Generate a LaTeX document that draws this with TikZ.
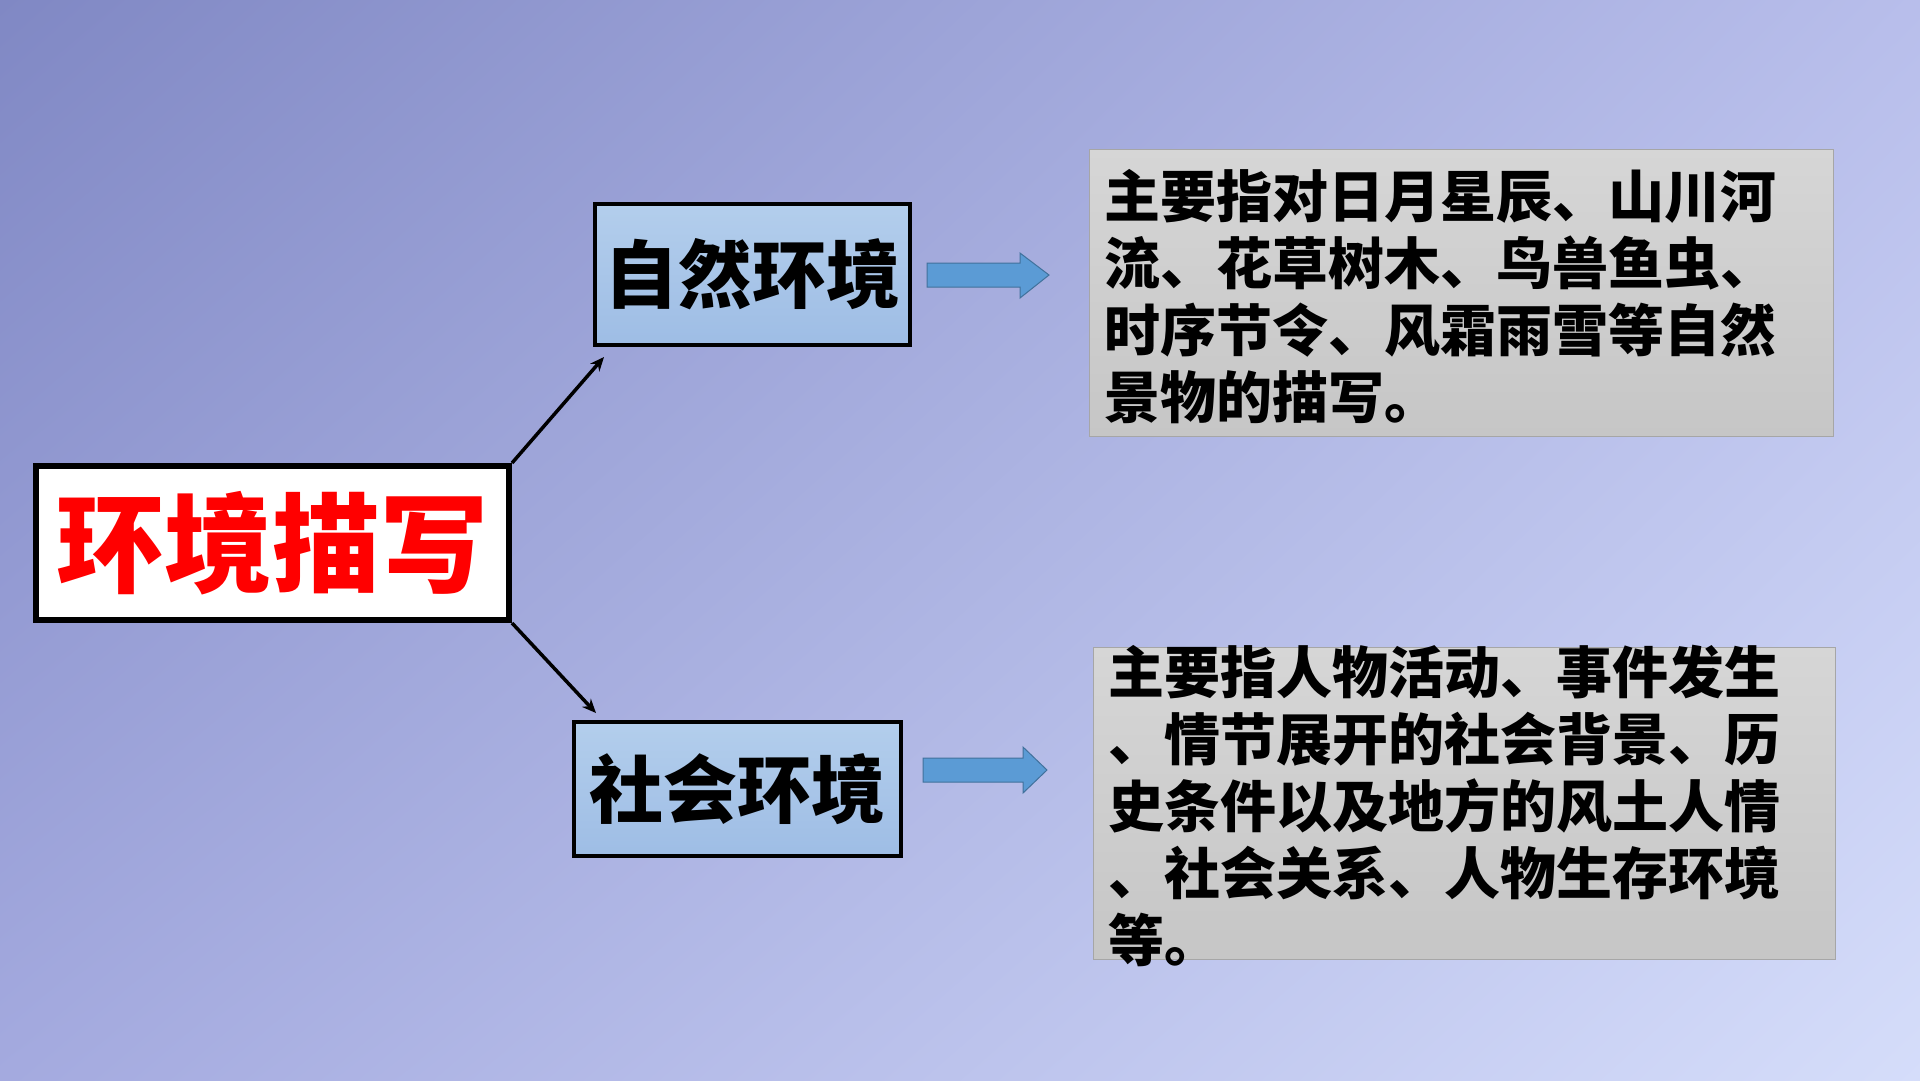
\documentclass[tikz,border=0pt]{standalone}
\usepackage{fontspec}
\newfontfamily\cjk{Noto Sans CJK SC}[BoldFont={Noto Sans CJK SC Black}]
\usetikzlibrary{arrows.meta,calc,shadings}
\definecolor{bgTL}{HTML}{8088C4}
\definecolor{bgTR}{HTML}{B8BEEB}
\definecolor{bgBL}{HTML}{A4AADF}
\definecolor{bgBR}{HTML}{D5DDFA}
\definecolor{boxTop}{HTML}{B3CEEC}
\definecolor{boxBot}{HTML}{9EBDE5}
\definecolor{grayTop}{HTML}{D6D6D6}
\definecolor{grayBot}{HTML}{C6C6C6}
\definecolor{grayLine}{HTML}{A6A6A6}
\definecolor{arrFill}{HTML}{5B9BD5}
\definecolor{arrLine}{HTML}{41719C}
\tikzset{
  mainbox/.style={draw=black, line width=0.6mm, fill=white, inner sep=0pt,
    font=\cjk\bfseries\fontsize{30.7}{36}\selectfont, text=red},
  subbox/.style={draw=black, line width=0.4mm, top color=boxTop, bottom color=boxBot,
    inner sep=0pt, font=\cjk\bfseries\fontsize{21.05}{25}\selectfont, text=black},
  descbox/.style={draw=grayLine, line width=0.1mm, top color=grayTop, bottom color=grayBot, inner sep=0pt},
  desctext/.style={anchor=north west, inner sep=0pt, align=left, text=black,
    font=\cjk\bfseries\fontsize{15.93}{19.06}\selectfont},
  link/.style={draw=black, line width=0.35mm, -{Stealth[length=1.4mm,width=1.2mm]}},
  blockarrow/.style={fill=arrFill, draw=arrLine, line width=0.1mm}
}
\begin{document}
\begin{tikzpicture}[x=0.1mm,y=-0.1mm]
\useasboundingbox (0,0) rectangle (1920,1080);
\begin{scope}[y=0.1mm]
\shade[upper left=bgTL, upper right=bgTR, lower left=bgBL, lower right=bgBR] (0,-1080) rectangle (1920,0);
\end{scope}

\node[mainbox, minimum width=47.3mm, minimum height=15.4mm] (env) at (272.5,543) {环境描写};
\node[subbox, minimum width=31.5mm, minimum height=14.1mm] (nat) at (752.5,274.5) {\raisebox{-0.3mm}{自然环境}};
\node[subbox, minimum width=32.7mm, minimum height=13.4mm] (soc) at (737.5,789) {\raisebox{-0.3mm}{社会环境}};

\node[descbox, minimum width=74.4mm, minimum height=28.7mm] (d1) at (1461,292.5) {};
\node[descbox, minimum width=74.2mm, minimum height=31.2mm] (d2) at (1464,803) {};

\node[desctext] (t1) at (1104,169) {主要指对日月星辰、山川河\\流、花草树木、鸟兽鱼虫、\\时序节令、风霜雨雪等自然\\景物的描写。};
\node[desctext] (t2) at (1108,644) {主要指人物活动、事件发生\\、情节展开的社会背景、历\\史条件以及地方的风土人情\\、社会关系、人物生存环境\\等。};

\coordinate (natin) at ($(nat.south west)+(11,10)$);
\coordinate (socin) at ($(soc.north west)+(24,-7)$);
\draw[link] (env.north east) -- (natin);
\draw[link] (env.south east) -- (socin);

\draw[blockarrow] (927,263) -- (1020,263) -- (1020,253) -- (1049,275) -- (1020,298) -- (1020,287) -- (927,287) -- cycle;
\draw[blockarrow] (923,758) -- (1023,758) -- (1023,747) -- (1047,770) -- (1023,793) -- (1023,782) -- (923,782) -- cycle;
\end{tikzpicture}
\end{document}
